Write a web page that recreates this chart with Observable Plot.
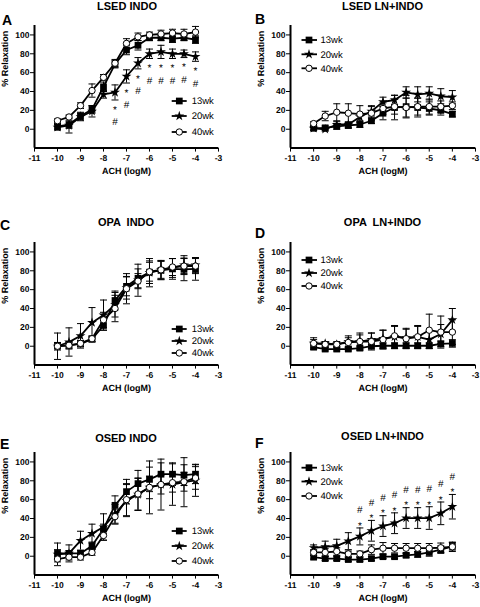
<!DOCTYPE html>
<html><head><meta charset="utf-8">
<script src="https://cdn.jsdelivr.net/npm/d3@7"></script>
<script src="https://cdn.jsdelivr.net/npm/@observablehq/plot@0.6"></script>
<style>
body{margin:0;background:#fff;}
#root{position:relative;width:480px;height:607px;overflow:hidden;font-family:"Liberation Sans",Arial,Helvetica,sans-serif;color:#000;}
.panel{position:absolute;}
.title{position:absolute;font-weight:bold;font-size:11px;transform:translate(-50%,-50%);white-space:pre;line-height:1;}
.letter{position:absolute;font-weight:bold;font-size:14px;transform:translate(0,-50%);line-height:1;}
svg g[aria-label="x-axis"], svg g[aria-label="y-axis"]{stroke-width:1.5;}
svg text{text-rendering:geometricPrecision;}
</style></head><body><div id="root"></div>
<script>
const FONT = '"Liberation Sans", Arial, Helvetica, sans-serif';
const doses = [-10,-9.5,-9,-8.5,-8,-7.5,-7,-6.5,-6,-5.5,-5,-4.5,-4];
const seriesNames = ["13wk","20wk","40wk"];
const xTicks = [-11,-10,-9,-8,-7,-6,-5,-4,-3];
const yTicks = [0,20,40,60,80,100];
const xLabel = "ACH (logM)";
const yLabel = "% Relaxation";
const titles = ["LSED INDO","LSED LN+INDO","OPA  INDO","OPA  LN+INDO","OSED INDO","OSED LN+INDO"];
const letters = ["A","B","C","D","E","F"];

// Panel A
const A13  = [3, 5, 14, 21, 45, 69, 84, 89, 97, 97, 96, 97, 95];
const A13e = [3, 4, 4, 4, 5, 4, 5, 5, 3, 3, 4, 3, 4];
const A20  = [2, 4, 13, 19, 37, 39, 56, 70, 80, 82, 80, 80, 77];
const A20e = [3, 8, 4, 6, 4, 8, 7, 6, 5, 7, 5, 4, 5];
const A40  = [9, 13, 25, 41, 55, 70, 91, 98, 100, 101, 102, 101, 103];
const A40e = [2, 2, 3, 7, 3, 4, 5, 4, 3, 4, 4, 5, 6];
// Panel B
const B13  = [1, 1.5, 3, 4, 5, 9, 17, 23, 24, 23, 22, 20, 16];
const B13e = [2, 2, 3, 3, 3, 3, 7, 13, 12, 10, 7, 5, 3];
const B20  = [1, 0, 5, 5, 13, 19, 29, 31, 39, 37, 38, 35, 34];
const B20e = [2, 2, 3, 3, 4, 5, 5, 5, 6, 8, 7, 8, 7];
const B40  = [6, 14, 18, 17, 16, 17, 22, 24, 23, 24, 24, 24, 25];
const B40e = [2, 5, 9, 10, 9, 8, 6, 8, 10, 9, 8, 6, 4];
// Panel C
const C13  = [0.5, 1, 2.5, 7.5, 22, 48.5, 63.5, 72, 78.5, 80.5, 82, 81.5, 82];
const C13e = [3, 3, 3, 3, 5, 10, 10, 10, 12, 10, 11, 12, 12];
const C20  = [0, 4.5, 11, 25, 33, 44, 62, 70, 78, 81, 83, 86, 86];
const C20e = [14, 15, 13, 16, 16, 13, 12, 17, 15, 10, 10, 10, 8];
const C40  = [0, 1, 3, 8, 28, 40, 61, 69, 79, 81, 84, 85, 85];
const C40e = [4, 4, 3, 3, 8, 14, 16, 8, 10, 9, 9, 8, 8];
// Panel D
const D13  = [-1, -3, -3, -3, -2, 0, 0.5, 0.5, 0.5, 0.5, 0.5, 2.5, 3];
const D13e = [2, 2, 2, 2, 2, 2, 3, 3, 3, 3, 3, 3, 4];
const D20  = [3, 3, 2, 5, 5, 7, 8, 10, 9, 10, 7, 13, 28];
const D20e = [4, 2, 2, 6, 7, 7, 9, 12, 10, 12, 9, 10, 12];
const D40  = [3, 2, 2, 4, 5, 5, 7, 11, 8, 10, 17, 15, 15];
const D40e = [6, 3, 3, 5, 9, 9, 10, 10, 10, 11, 17, 17, 13];
// Panel E
const E13  = [3, 3, 3, 11, 29, 54, 68.5, 77, 81.5, 87, 87, 86, 87];
const E13e = [4, 3, 3, 4, 5, 10, 13, 14, 13, 12, 12, 11, 10];
const E20  = [2, 3, 16.5, 24, 31, 45, 59, 65.5, 73, 76, 76, 78.5, 80.5];
const E20e = [12, 9, 10, 10, 14, 10, 17, 17, 28, 27, 22, 26, 17];
const E40  = [-3, -1, -1, 4, 22, 42, 60, 66, 73, 76, 78, 79, 83];
const E40e = [3, 3, 3, 3, 5, 8, 17, 17, 12, 10, 10, 10, 12];
// Panel F
const F13  = [-1, -2.5, -2.5, -3.5, -3.5, -2.5, -0.5, -0.5, 1, 2, 4, 7, 10.5];
const F13e = [2, 2, 2, 2, 2, 2, 2, 2, 2, 3, 4, 4, 4];
const F20  = [9, 10, 11, 16, 21, 27, 32, 35, 40.5, 40.5, 40.5, 45.5, 52.5];
const F20e = [3, 6, 7, 9, 9, 11, 11, 11, 11, 11, 12, 12, 13];
const F40  = [4, 4, 5, 2.5, 2.5, 7, 8.5, 8.5, 8.5, 8.5, 8.5, 9, 10];
const F40e = [3, 4, 4, 3, 3, 5, 6, 5, 5, 5, 5, 5, 5];

// Significance marks (doses where * and # appear, on the 20wk series)
const sigA = [-7.5,-7,-6.5,-6,-5.5,-5,-4.5,-4];
const sigF = [-8,-7.5,-7,-6.5,-6,-5.5,-5,-4.5,-4];

// ---- layout ----
const cols = [{left:0, ml:34, mr:22, leg:{l0:171.7,l1:186.7,m:179.3,t:191.7}},
              {left:240, ml:50, mr:5, leg:{l0:301.5,l1:317,m:309,t:320.5}}];
const rowTops = [25.3, 241.6, 451.6];
const MT = 10, PH = 122.6, MB = 40, W = 240;

const markerStyle = [
  {symbol: d3.symbolSquare, name:"square", r:3.8, fill:"#000", stroke:"none"},
  {symbol: d3.symbolStar, name:"star", r:3.1, fill:"#000", stroke:"none"},
  {symbol: d3.symbolCircle, name:"circle", r:3.2, fill:"#fff", stroke:"#000"}
];

const panels = [
  {means:[A13,A20,A40], errs:[A13e,A20e,A40e], col:0, row:0, titleXY:[127,5.5], letterXY:[2,20], legY:[101,116,132], sig:sigA, sigDir:1},
  {means:[B13,B20,B40], errs:[B13e,B20e,B40e], col:1, row:0, titleXY:[382.5,6], letterXY:[255,19], legY:[40,54.3,68.3]},
  {means:[C13,C20,C40], errs:[C13e,C20e,C40e], col:0, row:1, titleXY:[126,222], letterXY:[0,225], legY:[329,341,353]},
  {means:[D13,D20,D40], errs:[D13e,D20e,D40e], col:1, row:1, titleXY:[382.5,221.7], letterXY:[255,233], legY:[260,273,286]},
  {means:[E13,E20,E40], errs:[E13e,E20e,E40e], col:0, row:2, titleXY:[126,438], letterXY:[0,444], legY:[531,546,561]},
  {means:[F13,F20,F40], errs:[F13e,F20e,F40e], col:1, row:2, titleXY:[382.5,436], letterXY:[255,443], legY:[467.7,481.5,496], sig:sigF, sigDir:-1}
];

const capSymbol = {draw(ctx, size){ const r = Math.sqrt(size/Math.PI); ctx.moveTo(-r,0); ctx.lineTo(r,0); }};

const root = document.getElementById("root");

panels.forEach((p, pi) => {
  const col = cols[p.col];
  const rows = [];
  seriesNames.forEach((s, i) => p.means[i].forEach((m, j) => rows.push({series:s, si:i, x:doses[j], y:m, e:p.errs[i][j]})));
  const marks = [
    Plot.ruleX(rows, {x:"x", y1:d=>d.y-d.e, y2:d=>d.y+d.e, stroke:"#000", strokeWidth:1}),
    Plot.dot(rows, {x:"x", y:d=>d.y-d.e, symbol:capSymbol, r:3.5, stroke:"#000", strokeWidth:1, fill:"none"}),
    Plot.dot(rows, {x:"x", y:d=>d.y+d.e, symbol:capSymbol, r:3.5, stroke:"#000", strokeWidth:1, fill:"none"}),
    Plot.line(rows, {x:"x", y:"y", z:"series", stroke:"#000", strokeWidth:1.8})
  ];
  markerStyle.forEach((ms, i) => {
    marks.push(Plot.dot(rows.filter(d => d.si === i), {x:"x", y:"y", symbol:ms.name, r:ms.r, fill:ms.fill, stroke:ms.stroke, strokeWidth:1}));
  });
  if (p.sig) {
    const m20 = p.means[1], e20 = p.errs[1];
    const edge = d => { const j = doses.indexOf(d); return p.sigDir > 0 ? m20[j] - e20[j] : m20[j] + e20[j]; };
    marks.push(Plot.text(p.sig, {x:d=>d, y:edge, text:()=>"*", dy: p.sigDir > 0 ? 9.6 : -2.4, fontSize:10, fontWeight:"normal", fill:"#000"}));
    marks.push(Plot.text(p.sig, {x:d=>d, y:edge, text:()=>"#", dy: p.sigDir > 0 ? 22 : -18, fontSize:10, fontWeight:"normal", fill:"#000"}));
  }
  marks.push(Plot.ruleX([-11], {stroke:"#000", strokeWidth:2}));
  marks.push(Plot.ruleY([-20], {stroke:"#000", strokeWidth:2}));
  marks.push(Plot.text([xLabel], {text:d=>d, frameAnchor:"bottom", dy:26, fontSize:9, fill:"#000"}));
  marks.push(Plot.text([yLabel], {text:d=>d, frameAnchor:"left", dx:-29, rotate:-90, fontSize:9, fill:"#000"}));

  const svg = Plot.plot({
    width: W, height: MT + PH + MB,
    marginLeft: col.ml, marginRight: col.mr, marginTop: MT, marginBottom: MB,
    x: {domain:[-11,-3], ticks:xTicks, tickSize:4, tickPadding:3, tickFormat:d=>String(d), label:null},
    y: {domain:[-20,110], ticks:yTicks, tickSize:4, tickPadding:1, tickFormat:d=>String(d), label:null},
    style: {fontFamily:FONT, fontSize:"8.5px", fontWeight:"bold", background:"transparent", overflow:"visible", color:"#000"},
    marks
  });
  const div = document.createElement("div");
  div.className = "panel";
  div.style.left = col.left + "px";
  div.style.top = (rowTops[p.row] - MT) + "px";
  div.appendChild(svg);
  root.appendChild(div);

  const t = document.createElement("div");
  t.className = "title"; t.textContent = titles[pi];
  t.style.left = p.titleXY[0] + "px"; t.style.top = p.titleXY[1] + "px";
  root.appendChild(t);
  const l = document.createElement("div");
  l.className = "letter"; l.textContent = letters[pi];
  l.style.left = p.letterXY[0] + "px"; l.style.top = p.letterXY[1] + "px";
  root.appendChild(l);
});

// legends overlay
const ov = d3.select("#root").append("svg")
  .attr("width", 480).attr("height", 607)
  .style("position","absolute").style("left","0px").style("top","0px")
  .style("font-family", FONT);
panels.forEach(p => {
  const lg = cols[p.col].leg;
  seriesNames.forEach((s, i) => {
    const y = p.legY[i];
    const ms = markerStyle[i];
    ov.append("line").attr("x1", lg.l0).attr("x2", lg.l1).attr("y1", y).attr("y2", y)
      .attr("stroke", "#000").attr("stroke-width", 1.8);
    ov.append("path").attr("d", d3.symbol(ms.symbol, Math.PI * ms.r * ms.r)())
      .attr("transform", `translate(${lg.m},${y})`)
      .attr("fill", ms.fill).attr("stroke", ms.stroke).attr("stroke-width", 1);
    ov.append("text").attr("x", lg.t).attr("y", y).attr("dy", "0.35em")
      .attr("font-size", 9.5).attr("fill", "#000").text(s);
  });
});
</script></body></html>
